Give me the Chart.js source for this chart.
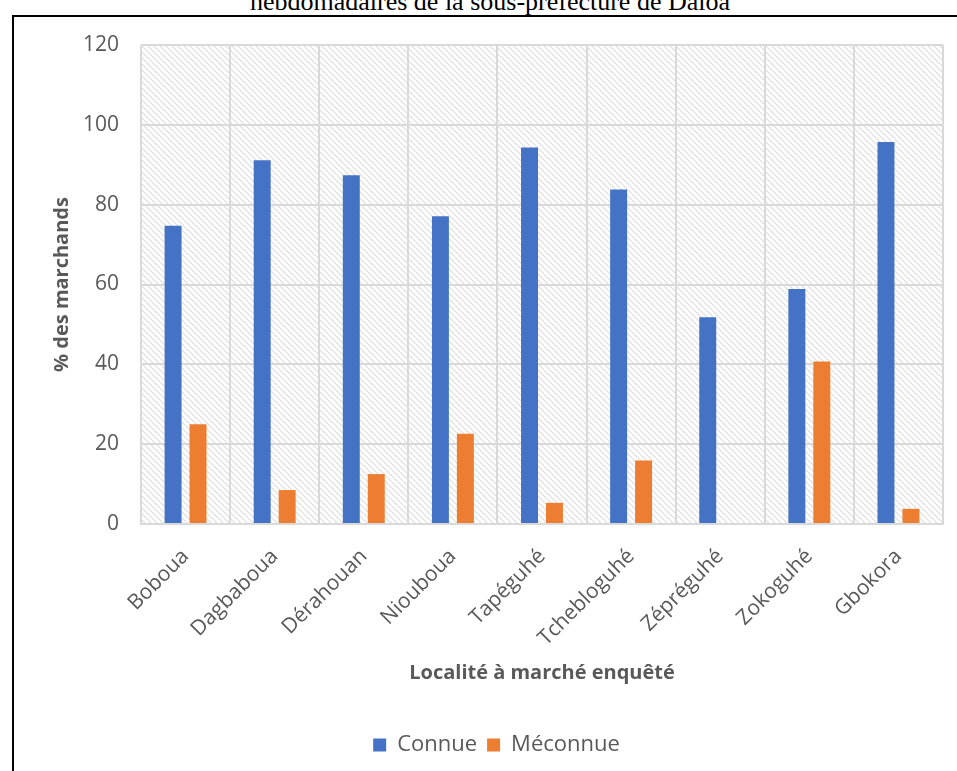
<!DOCTYPE html>
<html>
<head>
<meta charset="utf-8">
<script src="https://cdn.jsdelivr.net/npm/chart.js@4"></script>
<style>
  body { margin: 0; background: #fff; overflow: hidden; }
  #frame { position: absolute; left: 12px; top: 15px; width: 1000px; height: 800px; border: 2px solid #000; background: #fff; }
  #topTitle { position: absolute; left: 0; width: 980px; top: -11px; text-align: center; font-family: "Liberation Serif", serif; font-size: 26px; line-height: 26px; color: #000; }
  #wrap { position: absolute; left: 0; top: 0; width: 957px; height: 771px; }
</style>
</head>
<body>
<div id="frame"></div>
<div id="topTitle">hebdomadaires de la sous-préfecture de Daloa</div>
<div id="wrap"><canvas id="chart"></canvas></div>
<script>
const localites = ["Boboua", "Dagbaboua", "Dérahouan", "Niouboua", "Tapéguhé", "Tchebloguhé", "Zépréguhé", "Zokoguhé", "Gbokora"];
const connue = [74.7, 91.1, 87.4, 77.1, 94.3, 83.8, 51.8, 58.9, 95.7];
const meconnue = [25.0, 8.5, 12.5, 22.6, 5.3, 15.9, 0, 40.7, 3.8];
const yTicks = [0, 20, 40, 60, 80, 100, 120];

const grey = "#595959";
const gridGrey = "#d9d9d9";
const font = "'Open Sans', sans-serif";

// diagonal hatch behind the plot area
function makeHatch() {
  const s = 6;
  const c = document.createElement("canvas");
  c.width = s; c.height = s;
  const g = c.getContext("2d");
  g.fillStyle = "#fff";
  g.fillRect(0, 0, s, s);
  g.strokeStyle = "#dedede";
  g.lineWidth = 1.2;
  [-s, 0, s].forEach(k => {
    g.beginPath();
    g.moveTo(k - 1, -1);
    g.lineTo(k + s + 1, s + 1);
    g.stroke();
  });
  return g.createPattern(c, "repeat");
}

const hatchPlugin = {
  id: "hatch",
  beforeDraw(chart) {
    const a = chart.chartArea;
    const ctx = chart.ctx;
    ctx.save();
    ctx.fillStyle = makeHatch();
    ctx.fillRect(a.left, a.top, a.right - a.left, a.bottom - a.top);
    ctx.restore();
  }
};

new Chart(document.getElementById("chart"), {
  type: "bar",
  data: {
    labels: localites,
    datasets: [
      { label: "Connue", data: connue, backgroundColor: "#4472C4" },
      { label: "Méconnue", data: meconnue, backgroundColor: "#ED7D31" }
    ]
  },
  options: {
    responsive: true,
    maintainAspectRatio: false,
    animation: false,
    categoryPercentage: 0.56,
    barPercentage: 0.68,
    layout: { padding: { left: 50, right: 14, top: 45, bottom: 5 } },
    plugins: {
      tooltip: { enabled: false },
      legend: {
        position: "bottom",
        labels: { boxWidth: 13, boxHeight: 13, color: grey, font: { family: font, size: 22 }, padding: 10 }
      }
    },
    scales: {
      x: {
        grid: { color: gridGrey, lineWidth: 2, drawTicks: false },
        border: { color: gridGrey, width: 2 },
        ticks: { color: grey, font: { family: font, size: 21 }, maxRotation: 45, minRotation: 45, padding: 20 },
        title: { display: true, text: "Localité à marché enquêté", color: grey, font: { family: font, size: 20, weight: "bold" }, padding: { top: 0, bottom: 39 } },
        afterFit(scale) { scale.height = 200; }
      },
      y: {
        min: 0,
        max: 120,
        afterBuildTicks(scale) { scale.ticks = yTicks.map(v => ({ value: v })); },
        grid: { color: gridGrey, lineWidth: 2, drawTicks: false },
        border: { display: false },
        ticks: { color: grey, font: { family: font, size: 21 }, padding: 22 },
        title: { display: true, text: "% des marchands", color: grey, font: { family: font, size: 20, weight: "bold" }, padding: 0 },
        afterFit(scale) { scale.width = 91; }
      }
    }
  },
  plugins: [hatchPlugin]
});
</script>
</body>
</html>
